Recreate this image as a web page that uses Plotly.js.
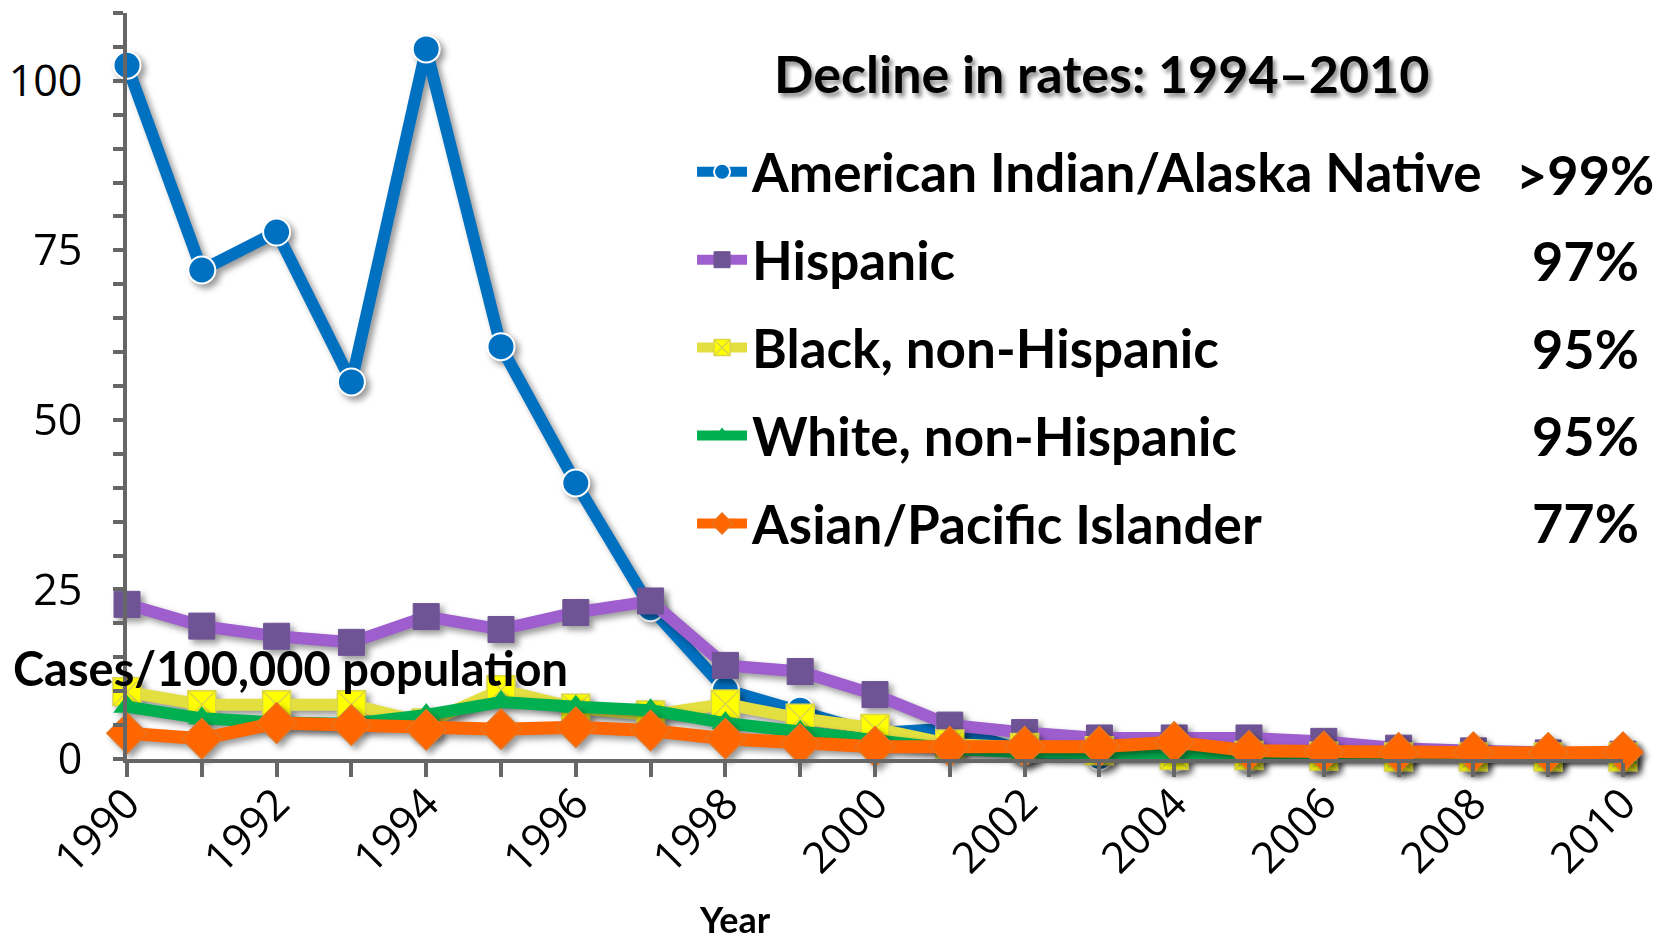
<!DOCTYPE html>
<html>
<head>
<meta charset="utf-8">
<script src="https://cdn.plot.ly/plotly-3.0.1.min.js"></script>
<style>
  html, body { margin: 0; padding: 0; background: #fff; }
  #chart { width: 1670px; height: 944px; }
  .scatterlayer .trace { filter: drop-shadow(4px 4px 3px rgba(0,0,0,0.4)); }
</style>
</head>
<body>
<div id="chart"></div>
<script>
// ---- data ----
const years = [1990,1991,1992,1993,1994,1995,1996,1997,1998,1999,2000,2001,2002,2003,2004,2005,2006,2007,2008,2009,2010];
const seriesNames = ['American Indian/Alaska Native','Hispanic','Black, non-Hispanic','White, non-Hispanic','Asian/Pacific Islander'];
const aian     = [102.3, 72.1, 77.7, 55.6, 104.7, 60.8, 40.7, 22.3, 10.2, 7.2, 3.8, 4.5, 1.2, 0.4, 0.2, 0.2, 0.1, 0.1, 0.1, 0.1, 0.1];
const hispanic = [22.8, 19.6, 18.1, 17.2, 21.0, 19.1, 21.6, 23.3, 13.8, 12.9, 9.5, 5.0, 3.9, 3.1, 3.1, 3.1, 2.6, 1.6, 1.2, 0.9, 0.7];
const black    = [9.9, 8.0, 8.0, 8.0, 5.3, 10.2, 7.5, 6.5, 8.1, 6.0, 4.5, 2.2, 1.7, 1.2, 0.5, 0.5, 0.4, 0.3, 0.3, 0.3, 0.3];
const white    = [7.7, 6.0, 5.4, 5.2, 6.5, 8.4, 7.7, 7.2, 5.3, 4.0, 2.4, 1.5, 1.0, 0.8, 0.5, 0.5, 0.5, 0.4, 0.4, 0.4, 0.3];
const asian    = [3.8, 3.0, 5.3, 5.0, 4.3, 4.4, 4.7, 4.2, 3.0, 2.2, 1.8, 1.8, 1.8, 1.8, 2.5, 1.2, 1.1, 0.9, 1.0, 0.9, 1.0];
const declines = ['>99%', '97%', '95%', '95%', '77%'];
const yTickVals = [0, 25, 50, 75, 100];
const legendTitle = 'Decline in rates: 1994\u20132010';
const yTitle = 'Cases/100,000 population';
const xTitle = 'Year';

// ---- styles ----
const values = [aian, hispanic, black, white, asian];
const styles = [
  {line: '#0070C0', width: 12, marker: {symbol: 'circle', size: 27, color: '#0070C0', line: {color: '#ffffff', width: 2}}},
  {line: '#9E5ECE', width: 12, marker: {symbol: 'square', size: 26, color: '#6E5494', line: {color: '#6E5494', width: 1}}},
  {line: '#E3DF41', width: 12, marker: {symbol: 'square-x', size: 28, color: '#FFFF00', line: {color: '#DCD64A', width: 1.5}}},
  {line: '#00B050', width: 12, marker: {symbol: 'triangle-up', size: 24, color: '#00B050', line: {color: '#00B050', width: 0}}},
  {line: '#FF6600', width: 13, marker: {symbol: 'diamond', size: 31, color: '#FF6600', line: {color: '#E8741E', width: 1.5}}}
];

const traces = values.map((v, i) => ({
  type: 'scatter',
  mode: 'lines+markers',
  name: seriesNames[i],
  legendgroup: 'g' + i,
  x: years,
  y: v,
  cliponaxis: false,
  line: {color: styles[i].line, width: styles[i].width},
  marker: styles[i].marker
}));

const boldFont = {family: 'Lato, "Open Sans", sans-serif', weight: 700, color: '#000'};
const rowY = [0.784, 0.6676, 0.5496, 0.4336, 0.317];

const annotations = declines.map((d, i) => ({
  xref: 'paper', yref: 'paper', x: 0.9746, y: rowY[i],
  xanchor: 'center', yanchor: 'middle', showarrow: false,
  text: d, font: Object.assign({size: 54}, boldFont)
}));
annotations.push({
  xref: 'paper', yref: 'paper', x: 0.6517, y: 0.919,
  xanchor: 'center', yanchor: 'middle', showarrow: false,
  text: legendTitle,
  font: Object.assign({size: 52, shadow: '3px 4px 4px rgba(0,0,0,0.45)'}, boldFont)
});
annotations.push({
  xref: 'paper', yref: 'paper', x: -0.0775, y: 0.122,
  xanchor: 'left', yanchor: 'middle', showarrow: false,
  text: yTitle, font: Object.assign({size: 47}, boldFont)
});
annotations.push({
  xref: 'paper', yref: 'paper', x: 0.4064, y: -0.2466,
  xanchor: 'center', yanchor: 'bottom', showarrow: false,
  text: xTitle, font: Object.assign({size: 36}, boldFont)
});

const axisColor = '#666666';
const tickFont = {family: '"Open Sans", sans-serif', size: 43, color: '#000'};
const layout = {
  width: 1670, height: 944,
  margin: {l: 127, r: 47, t: 13, b: 185, pad: 0},
  paper_bgcolor: '#ffffff', plot_bgcolor: '#ffffff',
  showlegend: true,
  legend: {
    x: 0.3777, y: 0.842, xanchor: 'left', yanchor: 'top',
    traceorder: 'grouped', tracegroupgap: 16,
    itemwidth: 50,
    font: Object.assign({size: 53}, boldFont),
    bgcolor: 'rgba(0,0,0,0)'
  },
  xaxis: {
    range: [1990, 2010], tick0: 1990, dtick: 2,
    showgrid: false, zeroline: false,
    showline: true, linecolor: axisColor, linewidth: 4,
    ticks: 'outside', ticklen: 14, tickwidth: 4, tickcolor: axisColor,
    minor: {dtick: 1, tick0: 1990, ticks: 'outside', ticklen: 14, tickwidth: 4, tickcolor: axisColor, showgrid: false},
    tickangle: -45,
    ticklabelstandoff: -16,
    tickfont: tickFont
  },
  yaxis: {
    range: [0, 110], tickvals: yTickVals,
    showgrid: false, zeroline: false,
    showline: true, linecolor: axisColor, linewidth: 4,
    ticks: 'outside', ticklen: 10, tickwidth: 4, tickcolor: axisColor,
    minor: {dtick: 5, tick0: 0, ticks: 'outside', ticklen: 10, tickwidth: 4, tickcolor: axisColor, showgrid: false},
    ticklabelstandoff: 22,
    tickfont: tickFont
  },
  annotations: annotations
};

Plotly.newPlot('chart', traces, layout, {staticPlot: true, displayModeBar: false});
</script>
</body>
</html>
